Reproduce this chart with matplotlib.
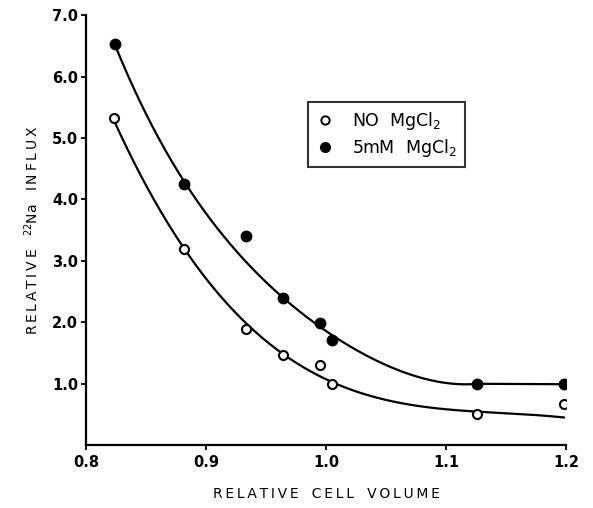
import numpy as np
import matplotlib
matplotlib.use("Agg")
import matplotlib.pyplot as plt
from matplotlib.lines import Line2D

vol_no = [0.823, 0.882, 0.933, 0.964, 0.995, 1.005, 1.126, 1.198]
flux_no = [5.32, 3.20, 1.89, 1.47, 1.30, 1.00, 0.50, 0.67]
vol_mg = [0.824, 0.882, 0.933, 0.964, 0.995, 1.005, 1.126, 1.198]
flux_mg = [6.53, 4.25, 3.40, 2.40, 1.98, 1.71, 0.99, 0.99]

# Hand-drawn smooth curves
curve_no_x = [0.823, 0.8394, 0.8533, 0.8672, 0.8825, 0.910, 0.933, 0.964,
              1.005, 1.037, 1.078, 1.126, 1.198]
curve_no_y = [5.32, 4.61, 4.10, 3.61, 3.20, 2.52, 1.98, 1.47,
              0.99, 0.82, 0.65, 0.53, 0.45]
curve_mg_x = [0.824, 0.8394, 0.8533, 0.8672, 0.8825, 0.910, 0.933, 0.964,
              0.995, 1.005, 1.037, 1.078, 1.106, 1.126]
curve_mg_y = [6.53, 5.81, 5.27, 4.78, 4.25, 3.52, 2.99, 2.40,
              1.93, 1.79, 1.41, 1.10, 1.01, 0.99]
# straight plateau of the 5 mM curve
tail_mg_x = [1.126, 1.198]
tail_mg_y = [0.99, 0.99]

xticks = [0.8, 0.9, 1.0, 1.1, 1.2]
xticklabels = ["0.8", "0.9", "1.0", "1.1", "1.2"]
yticks = [1, 2, 3, 4, 5, 6, 7]
yticklabels = ["1.0", "2.0", "3.0", "4.0", "5.0", "6.0", "7.0"]


def smooth_curve(x, y, deg, n=400):
    """Smooth least-squares polynomial through the read curve points."""
    x = np.asarray(x, float); y = np.asarray(y, float)
    p = np.polynomial.Polynomial.fit(x, y, deg)
    xs = np.linspace(x[0], x[-1], n)
    return xs, p(xs)


fig = plt.figure(figsize=(5.93, 5.08), dpi=100)
ax = fig.add_axes([0.145, 0.124, 0.81, 0.846])

xs, ys = smooth_curve(curve_no_x, curve_no_y, 4)
ax.plot(xs, ys, color="black", lw=1.6, zorder=2)

xs, ys = smooth_curve(curve_mg_x, curve_mg_y, 4)
xs = np.concatenate([xs, tail_mg_x[1:]])
ys = np.concatenate([ys, tail_mg_y[1:]])
ax.plot(xs, ys, color="black", lw=1.6, zorder=2, solid_joinstyle="round")

ax.plot(vol_no, flux_no, "o", ms=6.5, mfc="white", mec="black", mew=1.5, ls="none", zorder=3)
ax.plot(vol_mg, flux_mg, "o", ms=7.5, mfc="black", mec="black", ls="none", zorder=3)

ax.set_xlim(0.8, 1.2)
ax.set_ylim(0, 7.0)
ax.set_xticks(xticks)
ax.set_xticklabels(xticklabels, fontsize=10.5, fontweight="bold")
ax.set_yticks(yticks)
ax.set_yticklabels(yticklabels, fontsize=10.5, fontweight="bold")
ax.tick_params(axis="y", direction="out", length=3.5, width=1.3, pad=2)
ax.tick_params(axis="x", direction="out", length=3.5, width=1.3, pad=4)
for s in ["top", "right"]:
    ax.spines[s].set_visible(False)
for s in ["left", "bottom"]:
    ax.spines[s].set_linewidth(1.6)

ts = "\u2009"
xlab = ("   ").join(ts.join(w) for w in ["RELATIVE", "CELL", "VOLUME"])
ax.set_xlabel(xlab, fontsize=10, labelpad=12)
ylab = ts.join("RELATIVE") + "   $^{22}$Na   " + ts.join("INFLUX")
ax.set_ylabel(ylab, fontsize=10, labelpad=8)

handles = [
    Line2D([], [], marker="o", ls="none", ms=6, mfc="white", mec="black", mew=1.4),
    Line2D([], [], marker="o", ls="none", ms=7, mfc="black", mec="black"),
]
leg = ax.legend(handles, [r"NO  MgCl$_2$", r"5mM  MgCl$_2$"],
                loc="upper left", bbox_to_anchor=(0.4625, 0.798),
                borderaxespad=0, frameon=True, fancybox=False, edgecolor="black",
                fontsize=12.5, handlelength=1.0, handletextpad=1.1,
                borderpad=0.45, labelspacing=0.3)
leg.get_frame().set_linewidth(1.5)

fig.savefig("out.png", dpi=100)
